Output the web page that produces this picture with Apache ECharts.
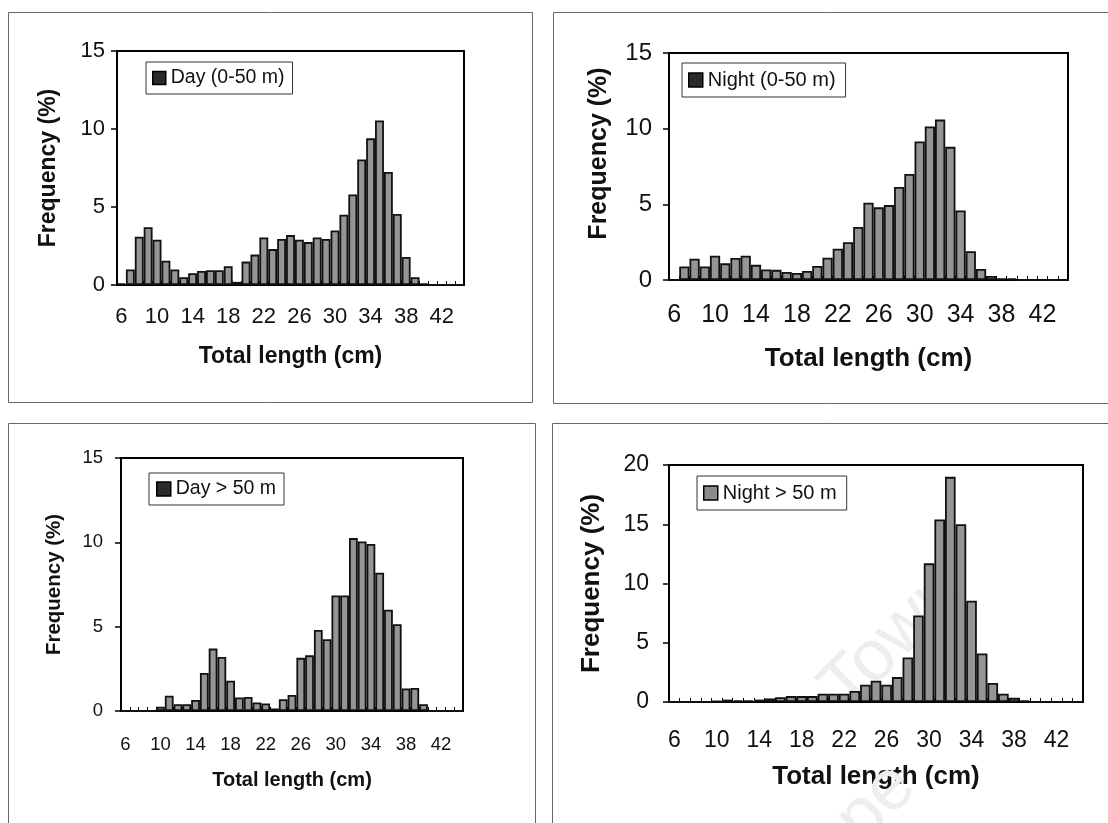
<!DOCTYPE html>
<html>
<head>
<meta charset="utf-8">
<title>Length frequency by depth and time of day</title>
<script src="https://cdn.jsdelivr.net/npm/echarts@6/dist/echarts.min.js"></script>
<style>
  html, body { margin: 0; padding: 0; background: #fff; }
  #chart { width: 1108px; height: 823px; }
</style>
</head>
<body>
<div id="chart"></div>
<script>
// Total length classes (cm), one bar per 1 cm class
const lengthClasses = ['6','7','8','9','10','11','12','13','14','15','16','17','18','19','20',
  '21','22','23','24','25','26','27','28','29','30','31','32','33','34','35','36','37','38',
  '39','40','41','42','43','44'];

// Frequency (%) per length class
const dayShallow = [0.1, 1.0, 3.1, 3.7, 2.9, 1.55, 1.0, 0.5, 0.75, 0.9, 0.95, 0.95, 1.2, 0.2, 1.5,
  1.95, 3.05, 2.3, 2.95, 3.2, 2.9, 2.75, 3.05, 2.95, 3.5, 4.5, 5.8, 8.05, 9.4, 10.55, 7.25, 4.55, 1.8,
  0.5, 0.1, 0, 0, 0, 0];
const nightShallow = [0, 0.9, 1.4, 0.9, 1.6, 1.1, 1.45, 1.6, 1.0, 0.7, 0.67, 0.53, 0.47, 0.6, 0.93,
  1.47, 2.07, 2.5, 3.5, 5.1, 4.8, 4.95, 6.15, 7.0, 9.15, 10.15, 10.6, 8.8, 4.6, 1.9, 0.73, 0.27, 0.1,
  0.1, 0, 0, 0, 0, 0];
const dayDeep = [0, 0, 0, 0, 0.25, 0.9, 0.4, 0.4, 0.65, 2.25, 3.7, 3.2, 1.8, 0.8, 0.83,
  0.5, 0.45, 0.15, 0.7, 0.95, 3.15, 3.3, 4.8, 4.25, 6.85, 6.85, 10.25, 10.05, 9.9, 8.2, 6.0, 5.15, 1.33,
  1.37, 0.4, 0, 0, 0, 0];
const nightDeep = [0, 0, 0, 0, 0.1, 0.2, 0.15, 0.15, 0.2, 0.3, 0.4, 0.5, 0.5, 0.5, 0.7,
  0.7, 0.7, 0.93, 1.45, 1.8, 1.45, 2.1, 3.75, 7.3, 11.7, 15.4, 19.0, 15.0, 8.55, 4.1, 1.6, 0.7, 0.35,
  0.15, 0, 0, 0, 0, 0];

const seriesNames = ['Day (0-50 m)', 'Night (0-50 m)', 'Day > 50 m', 'Night > 50 m'];
const yMaxima = [15, 15, 15, 20];
const xTitle = 'Total length (cm)';
const yTitle = 'Frequency (%)';

const FONT = '"Liberation Sans", Arial, Helvetica, sans-serif';

// Layout and type sizes for the four panels
const panels = [
  { values: dayShallow, grid: { left: 117, top: 51, width: 347, height: 234 },
    tickFont: 22, xFont: 22, titleFont: 23, yTitleFont: 23, labelMargin: 21, xNameGap: 60,
    yLabelMargin: 12, yNameGap: 57, yNamePad: 0,
    legend: { left: 146, top: 62, font: 19.5, icon: 13, pad: [6, 8, 6, 6], fill: '#2b2b2b' } },
  { values: nightShallow, grid: { left: 669, top: 53, width: 399, height: 227 },
    tickFont: 24, xFont: 25, titleFont: 26, yTitleFont: 25, labelMargin: 23, xNameGap: 66,
    yLabelMargin: 17, yNameGap: 57, yNamePad: 26,
    legend: { left: 682, top: 63, font: 20, icon: 14, pad: [7, 10, 7, 6], fill: '#2b2b2b' } },
  { values: dayDeep, grid: { left: 121, top: 458, width: 342, height: 253 },
    tickFont: 18.5, xFont: 18.5, titleFont: 20, yTitleFont: 20.5, labelMargin: 24, xNameGap: 59,
    yLabelMargin: 18, yNameGap: 56, yNamePad: 0,
    legend: { left: 149, top: 473, font: 19.5, icon: 14, pad: [6, 8, 6, 7], fill: '#2b2b2b' } },
  { values: nightDeep, grid: { left: 669, top: 465, width: 414, height: 237 },
    tickFont: 23, xFont: 23, titleFont: 26, yTitleFont: 26, labelMargin: 27, xNameGap: 62,
    yLabelMargin: 20, yNameGap: 64, yNamePad: 0,
    legend: { left: 697, top: 476, font: 20, icon: 14, pad: [7, 10, 7, 6], fill: '#8c8c8c' } }
];

const grids = [], xAxes = [], yAxes = [], series = [], legends = [];

panels.forEach((p, i) => {
  grids.push(Object.assign({
    show: true, borderColor: '#000', borderWidth: 2, backgroundColor: 'transparent',
    containLabel: false
  }, p.grid));

  xAxes.push({
    type: 'category', gridIndex: i, data: lengthClasses, boundaryGap: true,
    name: xTitle, nameLocation: 'middle', nameGap: p.xNameGap,
    nameTextStyle: { fontFamily: FONT, fontSize: p.titleFont, fontWeight: 'bold', color: '#111' },
    axisLine: { show: true, lineStyle: { color: '#000', width: 2 } },
    axisTick: { show: true, interval: 0, inside: true, length: 4, lineStyle: { color: '#000', width: 1 } },
    axisLabel: { interval: 3, margin: p.labelMargin, fontFamily: FONT, fontSize: p.xFont, color: '#111' },
    splitLine: { show: false }
  });

  yAxes.push({
    type: 'value', gridIndex: i, min: 0, max: yMaxima[i], interval: 5,
    name: yTitle, nameLocation: 'middle', nameGap: p.yNameGap, nameRotate: 90,
    nameTextStyle: { fontFamily: FONT, fontSize: p.yTitleFont, fontWeight: 'bold', color: '#111',
      padding: [0, 0, 0, p.yNamePad] },
    axisLine: { show: true, lineStyle: { color: '#000', width: 2 } },
    axisTick: { show: true, inside: false, length: 6, lineStyle: { color: '#000', width: 1.5 } },
    axisLabel: { margin: p.yLabelMargin, fontFamily: FONT, fontSize: p.tickFont, color: '#111' },
    splitLine: { show: false }
  });

  series.push({
    name: seriesNames[i], type: 'bar', xAxisIndex: i, yAxisIndex: i,
    data: p.values, barWidth: '100%', barCategoryGap: '0%', z: 3,
    itemStyle: { color: '#959595', borderColor: '#111', borderWidth: 1.8 },
    emphasis: { disabled: true }, animation: false
  });

  const lg = p.legend;
  legends.push({
    show: true, left: lg.left, top: lg.top, orient: 'horizontal',
    data: [{ name: seriesNames[i], icon: 'rect',
      itemStyle: { color: lg.fill, borderColor: '#000', borderWidth: 1.5 } }],
    itemWidth: lg.icon, itemHeight: lg.icon, padding: lg.pad,
    backgroundColor: '#fff', borderColor: '#333', borderWidth: 1, borderRadius: 0,
    textStyle: { fontFamily: FONT, fontSize: lg.font, color: '#111' },
    selectedMode: false
  });
});

// Panel frames and the faint background lettering
const graphics = [
  { type: 'rect', shape: { x: 8.5, y: 12.5, width: 524, height: 390 },
    style: { fill: 'none', stroke: '#666', lineWidth: 1 }, z: 0 },
  { type: 'rect', shape: { x: 553.5, y: 12.5, width: 620, height: 391 },
    style: { fill: 'none', stroke: '#666', lineWidth: 1 }, z: 0 },
  { type: 'rect', shape: { x: 8.5, y: 423.5, width: 527, height: 460 },
    style: { fill: 'none', stroke: '#666', lineWidth: 1 }, z: 0 },
  { type: 'rect', shape: { x: 552.5, y: 423.5, width: 620, height: 460 },
    style: { fill: 'none', stroke: '#666', lineWidth: 1 }, z: 0 },
  { type: 'text', x: 893, y: 640, rotation: Math.PI / 4, z: 1,
    style: { text: 'Town', font: '72px ' + FONT, fill: '#eeeeee', align: 'center', verticalAlign: 'middle' } },
  { type: 'text', x: 844, y: 836, rotation: Math.PI / 4, z: 1,
    style: { text: 'Cape', font: '72px ' + FONT, fill: '#eeeeee', align: 'center', verticalAlign: 'middle' } }
];

const chart = echarts.init(document.getElementById('chart'), null, { renderer: 'canvas' });
chart.setOption({
  animation: false,
  backgroundColor: '#fff',
  grid: grids,
  xAxis: xAxes,
  yAxis: yAxes,
  legend: legends,
  series: series,
  graphic: graphics
});
</script>
</body>
</html>
